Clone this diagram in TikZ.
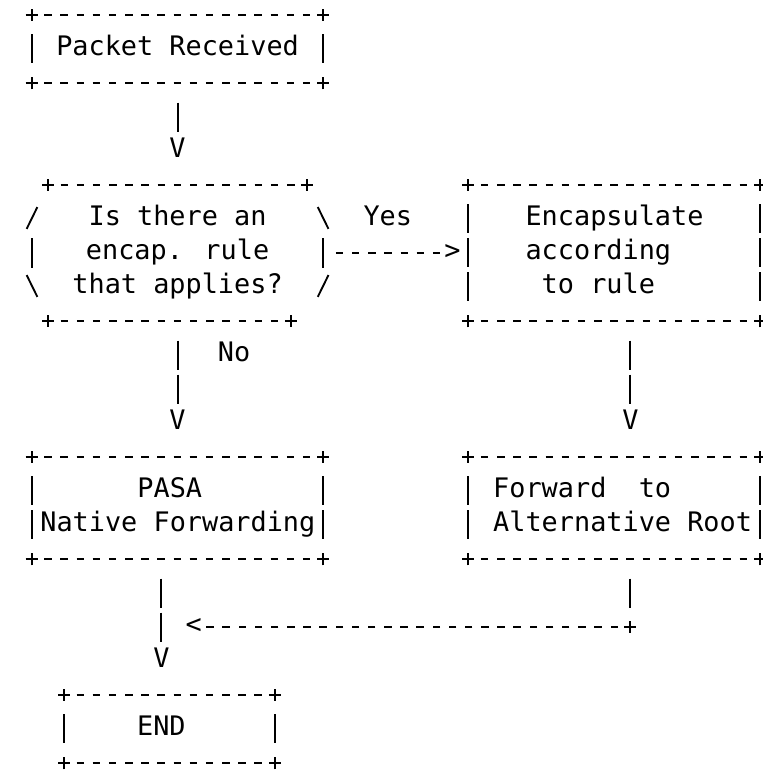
\documentclass[tikz,border=0pt]{standalone}
\usepackage{fontspec}
\newfontfamily\asciimono{DejaVu Sans Mono}
\usetikzlibrary{fit}

\begin{document}
\begin{tikzpicture}[x=12.13pt, y=-25.5pt,
		lbl/.style={font=\asciimono\fontsize{20.15pt}{25.5pt}\selectfont, inner sep=0pt, text height=14.55pt, text depth=4.85pt},
		para/.style={font=\asciimono\fontsize{20.15pt}{25.5pt}\selectfont, inner sep=0pt},
		frame/.style={inner sep=0pt},
		hdash/.style={line width=1.4pt, dash pattern=on 5.6pt off 6.53pt, shorten <=9.33pt, shorten >=9.33pt},
		vbar/.style={line width=1.4pt, dash pattern=on 21.9pt off 3.6pt, shorten <=14.55pt, shorten >=14.55pt},
		plus/.pic={\draw[line width=1.4pt] (-4.5pt,0) -- (4.5pt,0) (0,-4.5pt) -- (0,4.5pt);}]
	\useasboundingbox (-1.979,-0.441) rectangle (45.145,22.265);

	% boxes
	\node[frame, fit={(0,0) (18,2)}] (recv) {};
	\node[frame, fit={(0,5) (18,9)}] (rule) {};
	\node[frame, fit={(27,5) (45,9)}] (encap) {};
	\node[frame, fit={(0,13) (18,16)}] (native) {};
	\node[frame, fit={(27,13) (45,16)}] (altroot) {};
	\node[frame, fit={(2,20) (15,22)}] (finish) {};

	\foreach \b in {recv,encap,native,altroot,finish}{
		\draw[hdash] (\b.north west) -- (\b.north east);
		\draw[hdash] (\b.south west) -- (\b.south east);
		\draw[vbar] (\b.north west) -- (\b.south west);
		\draw[vbar] (\b.north east) -- (\b.south east);
		\foreach \c in {north west,north east,south west,south east}
			\pic at (\b.\c) {plus};
	}

	% the question box
	\draw[hdash] (1,5) -- (17,5);
	\draw[hdash] (1,9) -- (16,9);
	\pic at (1,5) {plus};
	\pic at (17,5) {plus};
	\pic at (1,9) {plus};
	\pic at (16,9) {plus};
	\draw[line width=1.4pt] (-0.33,6.29) -- (0.33,5.65);
	\draw[line width=1.4pt] (-0.33,7.65) -- (0.33,8.29);
	\draw[line width=1.4pt] (17.67,5.65) -- (18.33,6.29);
	\draw[line width=1.4pt] (18.33,7.65) -- (17.67,8.29);
	\draw[vbar] (0,6) -- (0,8);
	\draw[vbar] (18,6) -- (18,8);

	% texts
	\node[lbl] (recvtxt) at (9,1) {Packet Received};
	\node[para, align=center, anchor=base] (ruletxt) at (9,8.19) {Is there an\\encap. rule\\that applies?};
	\node[para, align=left, anchor=base west] (encaptxt) at (30.5,8.19) {Encapsulate\\according\\~to rule};
	\node[para, align=left, anchor=base west] (nativetxt) at (0.5,15.19) {~~~~~~PASA\\Native Forwarding};
	\node[para, align=left, anchor=base west] (alttxt) at (28.5,15.19) {Forward~~to\\Alternative Root};
	\node[lbl] (endtxt) at (8,21) {END};
	\node[lbl] (yes) at (22,6) {Yes};
	\node[lbl] (no) at (12.5,10) {No};

	% arrow heads
	\node[lbl] (va) at (9,4) {V};
	\node[lbl] (vb) at (9,12) {V};
	\node[lbl] (vc) at (37,12) {V};
	\node[lbl] (vd) at (8,19) {V};
	\node[lbl] (gt) at (26,7) {>};
	\node[lbl] (lt) at (10,18) {<};
	\coordinate (bend) at (37,18);

	% connectors
	\draw[vbar] (recv.south -| va) -- (va.center);
	\draw[hdash] (rule.east) -- (gt.center);
	\draw[vbar] (rule.south -| vb) -- (vb.center);
	\draw[vbar] (encap.south -| vc) -- (vc.center);
	\draw[vbar] (native.south -| vd) -- (vd.center);
	\draw[vbar] (altroot.south -| bend) -- (bend);
	\draw[hdash] (bend) -- (lt.center);
	\pic at (bend) {plus};
\end{tikzpicture}
\end{document}
